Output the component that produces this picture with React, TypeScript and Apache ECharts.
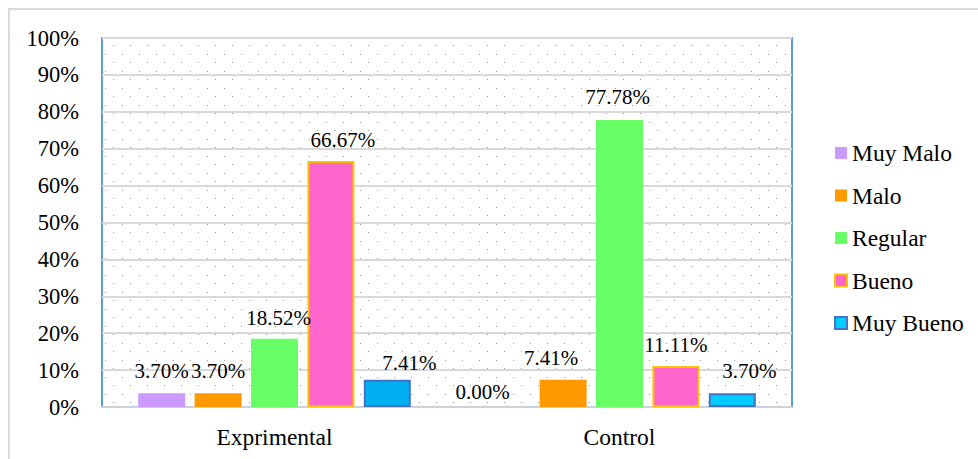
import React, { useEffect, useRef } from 'react';
import * as echarts from 'echarts';

// ---- data ----
const categories = ['Exprimental', 'Control'];
const seriesNames = ['Muy Malo', 'Malo', 'Regular', 'Bueno', 'Muy Bueno'];
const muyMalo = [3.7, 0.0];
const malo = [3.7, 7.41];
const regular = [18.52, 77.78];
const bueno = [66.67, 11.11];
const muyBueno = [7.41, 3.7];
const yMin = 0;
const yMax = 100;
const yStep = 10;

// ---- styles ----
const FONT = 'Liberation Serif';
const fills = ['#cc99ff', '#ff9900', '#66ff66', '#ff66cc', '#00ccff'];
const borders = ['', '', '', '#ffc000', '#4472c4'];
// per-point fill overrides (series index -> category index -> color)
const fillOverrides: Record<number, Record<number, string>> = { 4: { 0: '#00b0f0' } };
// label nudges [dx, dy] (series index -> category index)
const labelNudges: Record<number, Record<number, [number, number]>> = {
  0: { 1: [-24, 7] },
  1: { 1: [-12, 0] },
  2: { 0: [4, 1], 1: [-2, -1] },
  3: { 0: [12, 1], 1: [0, 1] },
  4: { 0: [22, 5], 1: [17, 0] },
};

export default function App() {
  const ref = useRef<HTMLDivElement>(null);

  useEffect(() => {
    if (!ref.current) return;
    const chart = echarts.init(ref.current, undefined, { renderer: 'svg' });

    const cv = document.createElement('canvas');
    cv.width = 17;
    cv.height = 17;
    const ctx = cv.getContext('2d');
    if (ctx) {
      ctx.fillStyle = '#ffffff';
      ctx.fillRect(0, 0, 17, 17);
      ctx.fillStyle = '#9a9a9a';
      ctx.fillRect(3, 3, 1, 1);
      ctx.fillRect(11, 11, 1, 1);
    }
    const pattern = { image: cv.toDataURL(), repeat: 'repeat', imageWidth: 17, imageHeight: 17 } as any;

    const values = [muyMalo, malo, regular, bueno, muyBueno];
    const labelBase = {
      show: true,
      position: 'top',
      distance: 11.5,
      color: '#000',
      fontFamily: FONT,
      fontSize: 21,
      lineHeight: 21,
    };

    const series = seriesNames.map((name, si) => ({
      name,
      type: 'bar',
      barWidth: 47,
      barGap: '20%',
      itemStyle: {
        color: fills[si],
        borderColor: borders[si] || fills[si],
        borderWidth: borders[si] ? 2 : 0,
      },
      label: {
        ...labelBase,
        formatter: (p: any) => Number(p.value).toFixed(2) + '%',
      },
      data: values[si].map((v, ci) => {
        const item: any = { value: v };
        const fo = fillOverrides[si]?.[ci];
        if (fo) item.itemStyle = { color: fo };
        const nudge = labelNudges[si]?.[ci];
        if (nudge) item.label = { ...labelBase, offset: nudge };
        return item;
      }),
    }));

    chart.setOption({
      animation: false,
      backgroundColor: '#ffffff',
      textStyle: { fontFamily: FONT },
      graphic: [
        {
          type: 'rect',
          z: -10,
          silent: true,
          shape: { x: 9, y: 9, width: 1000, height: 500 },
          style: { fill: 'none', stroke: '#d9d9d9', lineWidth: 2 },
        },
      ],
      grid: {
        left: 102,
        right: 186,
        top: 38,
        bottom: 52,
        show: true,
        backgroundColor: pattern,
        borderColor: '#5b9bd5',
        borderWidth: 2,
      },
      legend: {
        orient: 'vertical',
        left: 834,
        top: 141,
        padding: 0,
        itemWidth: 12,
        itemHeight: 12,
        itemGap: 18.5,
        icon: 'rect',
        data: seriesNames,
        textStyle: { fontFamily: FONT, fontSize: 23.5, color: '#000', lineHeight: 24 },
      },
      xAxis: {
        type: 'category',
        data: categories,
        axisLine: { show: true, lineStyle: { color: '#c9d3de', width: 2 } },
        axisTick: { show: false },
        axisLabel: { fontFamily: FONT, fontSize: 23.5, color: '#000', margin: 18 },
      },
      yAxis: {
        type: 'value',
        min: yMin,
        max: yMax,
        interval: yStep,
        axisLine: { show: false },
        axisTick: { show: false },
        axisLabel: {
          fontFamily: FONT,
          fontSize: 22.5,
          color: '#000',
          margin: 23,
          formatter: '{value}%',
        },
        splitLine: { show: true, lineStyle: { color: '#d9d9d9', width: 2 } },
      },
      series,
    } as any);

    return () => chart.dispose();
  }, []);

  return (
    <div
      ref={ref}
      style={{ position: 'fixed', left: 0, top: 0, width: 978, height: 459 }}
    />
  );
}
